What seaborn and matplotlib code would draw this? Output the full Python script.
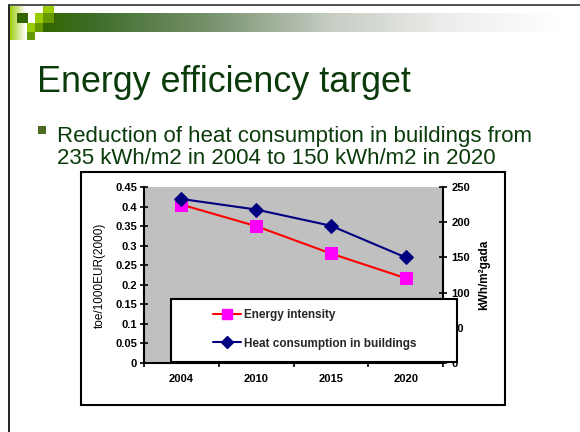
import numpy as np
import matplotlib.pyplot as plt
import seaborn as sns
from matplotlib.patches import Rectangle
from matplotlib.lines import Line2D
from matplotlib.colors import LinearSegmentedColormap

# --------------- data --------------- #
years = ["2004", "2010", "2015", "2020"]
energy_intensity = [0.405, 0.35, 0.28, 0.217]      # toe/1000EUR(2000), left axis
heat_consumption = [233, 218, 195, 150]             # kWh/m2 gada, right axis
left_ticks = [0, 0.05, 0.1, 0.15, 0.2, 0.25, 0.3, 0.35, 0.4, 0.45]
left_tick_labels = ["0", "0.05", "0.1", "0.15", "0.2", "0.25", "0.3", "0.35", "0.4", "0.45"]
right_ticks = [0, 50, 100, 150, 200, 250]
series_names = ["Energy intensity", "Heat consumption in buildings"]

sns.set_style("ticks")
plt.rcParams["font.family"] = ["Liberation Sans", "DejaVu Sans"]

W, H = 580, 432
fig = plt.figure(figsize=(5.8, 4.32), dpi=100)


def px(x0, y0, x1, y1):
    # pixel box -> figure fraction rect
    return [x0 / W, 1 - y1 / H, (x1 - x0) / W, (y1 - y0) / H]


# --------------- slide background --------------- #
bg = fig.add_axes([0, 0, 1, 1])
bar_cmap = LinearSegmentedColormap.from_list(
    "bar", [(0, "#336600"), (0.1, "#3f6d2a"), (0.33, "#7a9470"),
            (0.55, "#c5ccc2"), (0.77, "#ececea"), (1, "#ffffff")])
bg.imshow(np.linspace(0, 1, 256)[None, :], cmap=bar_cmap, aspect="auto",
          extent=[43, 562, 32, 13])
strip_cmap = LinearSegmentedColormap.from_list("strip", ["#99cc00", "#ffffff"])
bg.imshow(np.linspace(0, 1, 64)[None, :], cmap=strip_cmap, aspect="auto",
          extent=[9, 26, 40, 6])
squares = [
    (17, 13, 11, 10, "#336600"),
    (43, 6, 11, 7, "#99cc00"),
    (35, 13, 8, 10, "#99cc00"),
    (43, 13, 11, 10, "#669900"),
    (27, 23, 8, 9, "#99cc00"),
    (35, 23, 8, 9, "#669900"),
    (27, 32, 8, 8, "#669900"),
]
for x, y, w, h, c in squares:
    bg.add_patch(Rectangle((x, y), w, h, color=c, lw=0))
bg.plot([8.5, 8.5], [5, H], color="#222222", lw=1.4)
bg.plot([8.5, W], [5, 5], color="#333333", lw=1.2)

bg.text(37, 92, "Energy efficiency target", fontsize=25.8, color="#0b3b0b",
        va="baseline")
bg.add_patch(Rectangle((38, 126), 8, 8, color="#4d6b1f", lw=0))
bg.text(57, 142, "Reduction of heat consumption in buildings from",
        fontsize=16, color="#0b3b0b", va="baseline")
bg.text(57, 164, "235 kWh/m2 in 2004 to 150 kWh/m2 in 2020",
        fontsize=16, color="#0b3b0b", va="baseline")

# chart object frame
bg.add_patch(Rectangle((81, 172), 424, 233, fc="white", ec="black", lw=1.5))
bg.set_xlim(0, W)
bg.set_ylim(H, 0)
bg.axis("off")

# --------------- chart --------------- #
ax = fig.add_axes(px(144, 187, 443, 363))
ax.set_facecolor("#c0c0c0")
sns.lineplot(x=years, y=energy_intensity, ax=ax, color="#ff0000", lw=1.5,
             marker="s", markersize=8, markerfacecolor="#ff00ff",
             markeredgecolor="#ff00ff", sort=False, legend=False)
ax2 = ax.twinx()
sns.lineplot(x=years, y=heat_consumption, ax=ax2, color="#000080", lw=1.5,
             marker="D", markersize=7, markerfacecolor="#000080",
             markeredgecolor="#000080", sort=False, legend=False)

ax.set_xlim(-0.5, 3.5)
ax.set_ylim(0, 0.45)
ax2.set_ylim(0, 250)
ax.set_yticks(left_ticks)
ax.set_yticklabels(left_tick_labels)
ax2.set_yticks(right_ticks)
ax.set_xticks(np.arange(-0.5, 4, 1), minor=True)

ax.tick_params(axis="y", direction="inout", length=6, width=1.2, colors="black",
               labelsize=8, pad=2)
ax2.tick_params(axis="y", direction="inout", length=6, width=1.2, colors="black",
                labelsize=8, pad=3)
ax.tick_params(axis="x", which="major", length=0, labelsize=8, pad=8,
               colors="black")
ax.tick_params(axis="x", which="minor", direction="inout", length=6, width=1.2,
               colors="black")
for lbl in ax.get_xticklabels() + ax.get_yticklabels() + ax2.get_yticklabels():
    lbl.set_fontweight("bold")

for s in ["top", "right"]:
    ax.spines[s].set_visible(False)
for s in ["top", "left", "bottom"]:
    ax2.spines[s].set_visible(False)
for s in ["left", "bottom"]:
    ax.spines[s].set_color("black")
    ax.spines[s].set_linewidth(1.5)
ax2.spines["right"].set_color("black")
ax2.spines["right"].set_linewidth(1.5)
ax.set_xlabel("")

ax.set_ylabel("toe/1000EUR(2000)", fontsize=8.5, color="black",
              ha="center", va="center")
ax.yaxis.set_label_coords((100 - 144) / 299, 0.5)
ax2.set_ylabel("kWh/m²gada", fontsize=8.5, fontweight="bold", color="black",
               ha="center", va="center")
ax2.yaxis.set_label_coords((484 - 144) / 299, 0.5)

# --------------- legend (on top of the right axis labels) --------------- #
ov = fig.add_axes([0, 0, 1, 1])
ov.set_xlim(0, W)
ov.set_ylim(H, 0)
ov.axis("off")
ov.add_patch(Rectangle((171, 299), 286, 63, fc="white", ec="black", lw=1.5))
handles = [
    Line2D([], [], color="#ff0000", lw=1.5, marker="s", markersize=7,
           markerfacecolor="#ff00ff", markeredgecolor="#ff00ff"),
    Line2D([], [], color="#000080", lw=1.5, marker="D", markersize=6,
           markerfacecolor="#000080", markeredgecolor="#000080"),
]
ov.legend(handles, series_names, loc="upper left", bbox_to_anchor=(213, 309),
          bbox_transform=ov.transData, frameon=False, borderpad=0,
          borderaxespad=0, handlelength=2.4, handletextpad=0.2,
          labelspacing=1.4, prop={"weight": "bold", "size": 8.5})

fig.savefig("out.png", dpi=100)
